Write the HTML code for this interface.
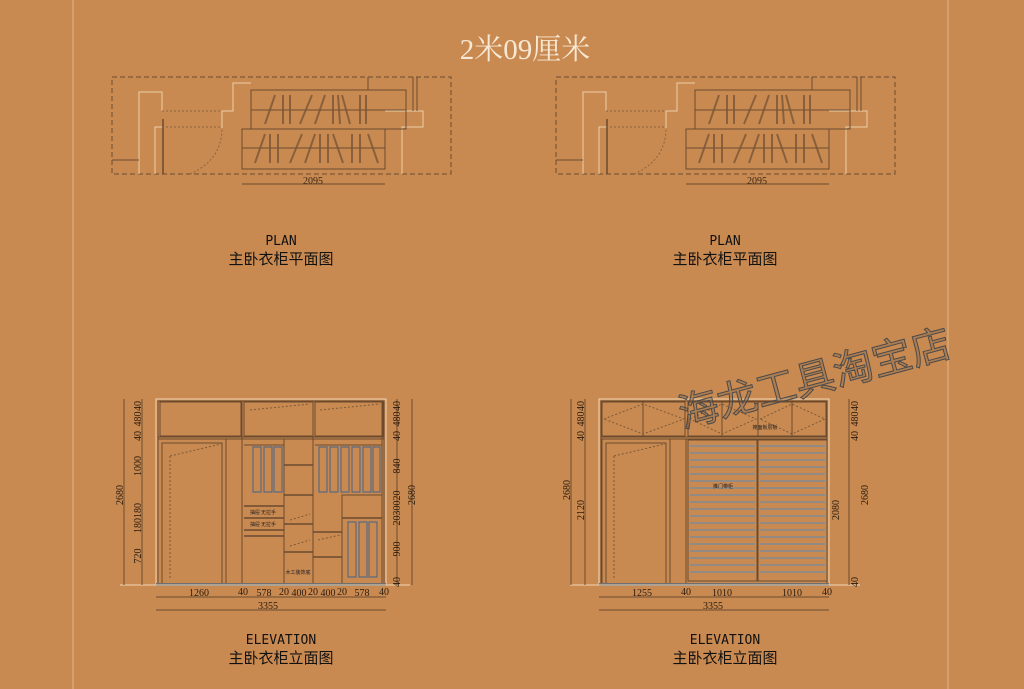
<!DOCTYPE html>
<html><head><meta charset="utf-8"><style>
html,body{margin:0;padding:0;background:#c98a52;}
svg{display:block}
</style></head><body>
<svg width="1024" height="689" viewBox="0 0 1024 689" xmlns="http://www.w3.org/2000/svg" font-family="Liberation Serif, Noto Serif CJK SC, serif">
<rect width="1024" height="689" fill="#c98a52"/>
<line x1="73" y1="0" x2="73" y2="689" stroke="#e2b788" stroke-width="1"/>
<line x1="948" y1="0" x2="948" y2="689" stroke="#e2b788" stroke-width="1"/>
<text x="525" y="59" font-size="29" fill="#f6e8d2" text-anchor="middle">2米09厘米</text>

<defs>
<g id="plan">
 <rect x="112" y="77" width="339" height="97" fill="none" stroke="#6b4a2e" stroke-dasharray="5,3"/>
 <g fill="none" stroke="#edd0a8" stroke-width="1">
  <polyline points="139,174 139,92 162,92 162,111"/>
  <polyline points="162,127 155,127 155,174"/>
  <polyline points="222,128 222,111 233,111 233,83 251,83"/>
  <polyline points="385,111 423,111 423,127 402,127 402,174"/>
 </g>
 <line x1="112" y1="160" x2="139" y2="160" stroke="#6b4a2e"/>
 <line x1="163" y1="119" x2="163" y2="174" stroke="#6b4a2e" stroke-width="1.5"/>
 <path d="M162,111 L222,111 M162,127 L222,127" stroke="#8a6440" stroke-dasharray="2,2"/>
 <path d="M190,174 Q222,160 222,128" fill="none" stroke="#8a6440" stroke-dasharray="2,2"/>
 <rect x="251" y="90" width="155" height="39" fill="none" stroke="#6b4a2e"/>
 <rect x="242" y="129" width="143" height="40" fill="none" stroke="#6b4a2e"/>
 <line x1="251" y1="110" x2="406" y2="110" stroke="#6b4a2e"/>
 <line x1="242" y1="148" x2="385" y2="148" stroke="#6b4a2e"/>
 <line x1="368" y1="77" x2="368" y2="90" stroke="#6b4a2e"/>
 <line x1="413" y1="77" x2="413" y2="111" stroke="#6b4a2e"/>
 <line x1="417" y1="77" x2="417" y2="111" stroke="#6b4a2e"/>
 <g stroke="#7a5636" stroke-width="2" opacity=".8">
  <path d="M265,124 L275,95 M283,124 L283,95 M290,124 L290,95 M300,124 L312,95 M315,124 L325,95 M333,124 L333,95 M340,124 L338,95 M350,124 L342,95 M360,124 L360,95 M366,124 L366,95"/>
  <path d="M255,163 L265,134 M270,163 L270,134 M278,163 L278,134 M290,163 L302,134 M305,163 L315,134 M320,163 L320,134 M328,163 L328,134 M343,163 L333,134 M352,163 L352,134 M360,163 L360,134 M378,163 L368,134"/>
 </g>
 <line x1="242" y1="184" x2="385" y2="184" stroke="#6b4a2e"/>
 <text x="313" y="184" font-size="10" fill="#3a2614" text-anchor="middle">2095</text>
</g>
</defs>
<use href="#plan"/>
<use href="#plan" x="444"/>

<g fill="#111" text-anchor="middle">
<text x="281" y="245" font-size="13" font-family="DejaVu Sans Mono, monospace">PLAN</text>
<text x="281" y="264" font-size="15" font-family="Noto Sans CJK SC, sans-serif">主卧衣柜平面图</text>
<text x="725" y="245" font-size="13" font-family="DejaVu Sans Mono, monospace">PLAN</text>
<text x="725" y="264" font-size="15" font-family="Noto Sans CJK SC, sans-serif">主卧衣柜平面图</text>
<text x="281" y="644" font-size="13" font-family="DejaVu Sans Mono, monospace">ELEVATION</text>
<text x="281" y="663" font-size="15" font-family="Noto Sans CJK SC, sans-serif">主卧衣柜立面图</text>
<text x="725" y="644" font-size="13" font-family="DejaVu Sans Mono, monospace">ELEVATION</text>
<text x="725" y="663" font-size="15" font-family="Noto Sans CJK SC, sans-serif">主卧衣柜立面图</text>
</g>

<!-- Left elevation -->
<g fill="none" stroke="#6b4a2e">
 <rect x="156" y="399" width="230" height="186" stroke="#efd6b2"/>
 <rect x="158" y="401" width="226" height="183"/>
 <line x1="158" y1="437" x2="384" y2="437"/>
 <line x1="158" y1="439" x2="384" y2="439"/>
 <rect x="160" y="402" width="81" height="34"/>
 <rect x="244" y="402" width="69" height="34"/>
 <rect x="315" y="402" width="68" height="34"/>
 <line x1="242" y1="401" x2="242" y2="584"/>
 <line x1="313" y1="401" x2="313" y2="584"/>
 <rect x="158" y="439" width="68" height="145"/>
 <rect x="162" y="443" width="60" height="141"/>
 <line x1="284" y1="439" x2="284" y2="584"/>
 <line x1="244" y1="445" x2="284" y2="445"/>
 <line x1="315" y1="445" x2="382" y2="445"/>
 <path d="M244,506 H284 M244,518 H284 M244,530 H284 M244,536 H284 M284,465 H313 M284,495 H313 M284,524 H313 M284,552 H313 M313,532 H342 M313,557 H342" stroke-width="1.5"/>
 <rect x="342" y="495" width="40" height="23"/>
 <line x1="342" y1="518" x2="382" y2="518" stroke-width="1.5"/>
 <line x1="342" y1="495" x2="342" y2="584"/>
 <line x1="382" y1="401" x2="382" y2="584"/>
</g>
<g stroke="#7a5a3a" stroke-dasharray="2,2" fill="none">
 <path d="M170,456 L170,580 M170,456 L221,444 M250,410 L310,404 M320,410 L380,404 M290,520 L310,514 M290,546 L310,540 M318,540 L340,535"/>
</g>
<g stroke="#5a6a80" fill="none" stroke-width="1.2">
 <path d="M253,447 v45 h8 v-45 z M264,447 v45 h8 v-45 z M274,447 v45 h8 v-45 z"/>
 <path d="M319,447 v45 h8 v-45 z M330,447 v45 h8 v-45 z M341,447 v45 h8 v-45 z M352,447 v45 h8 v-45 z M363,447 v45 h8 v-45 z M373,447 v45 h7 v-45 z"/>
 <path d="M348,522 v55 h8 v-55 z M359,522 v55 h8 v-55 z M369,522 v55 h8 v-55 z"/>
</g>
<rect x="156" y="583" width="230" height="3" fill="#6f6f70"/>
<line x1="120" y1="585" x2="410" y2="585" stroke="#efd6b2"/>
<g font-size="5" fill="#222" text-anchor="middle" font-family="Noto Sans CJK SC, sans-serif">
<text x="263" y="514">抽屉 无拉手</text><text x="263" y="526">抽屉 无拉手</text><text x="298" y="574">木工装饰底</text>
</g>
<g stroke="#6b4a2e" fill="none">
 <line x1="142" y1="399" x2="142" y2="585"/><line x1="124" y1="399" x2="124" y2="585"/>
 <line x1="397" y1="399" x2="397" y2="585"/><line x1="412" y1="399" x2="412" y2="585"/>
 <line x1="156" y1="597" x2="386" y2="597"/><line x1="156" y1="610" x2="386" y2="610"/>
</g>
<g font-size="10" fill="#2a1a0c" text-anchor="middle">
 <text transform="translate(141,406) rotate(-90)">40</text>
 <text transform="translate(141,419) rotate(-90)">480</text>
 <text transform="translate(141,436) rotate(-90)">40</text>
 <text transform="translate(141,466) rotate(-90)">1000</text>
 <text transform="translate(141,518) rotate(-90)">180180</text>
 <text transform="translate(141,556) rotate(-90)">720</text>
 <text transform="translate(123,495) rotate(-90)">2680</text>
 <text transform="translate(400,406) rotate(-90)">40</text>
 <text transform="translate(400,419) rotate(-90)">480</text>
 <text transform="translate(400,436) rotate(-90)">40</text>
 <text transform="translate(400,466) rotate(-90)">840</text>
 <text transform="translate(400,508) rotate(-90)">2030020</text>
 <text transform="translate(400,549) rotate(-90)">900</text>
 <text transform="translate(400,582) rotate(-90)">40</text>
 <text transform="translate(415,495) rotate(-90)">2680</text>
 <text x="199" y="596">1260</text><text x="243" y="595">40</text><text x="264" y="596">578</text>
 <text x="284" y="595">20</text><text x="299" y="596">400</text><text x="313" y="595">20</text>
 <text x="328" y="596">400</text><text x="342" y="595">20</text><text x="362" y="596">578</text>
 <text x="384" y="595">40</text><text x="268" y="609">3355</text>
</g>

<!-- Right elevation -->
<g fill="none" stroke="#6b4a2e">
 <rect x="599" y="399" width="230" height="186" stroke="#efd6b2"/>
 <rect x="601" y="401" width="226" height="183"/>
 <line x1="601" y1="437" x2="827" y2="437"/><line x1="601" y1="439" x2="827" y2="439"/>
 <rect x="602" y="402" width="83" height="34"/>
 <rect x="688" y="402" width="138" height="34"/>
 <line x1="643" y1="402" x2="643" y2="436"/><line x1="722" y1="402" x2="722" y2="436"/>
 <line x1="758" y1="402" x2="758" y2="436"/><line x1="792" y1="402" x2="792" y2="436"/>
 <rect x="602" y="439" width="68" height="145"/><rect x="606" y="443" width="60" height="141"/>
 <line x1="686" y1="439" x2="686" y2="584"/>
 <rect x="688" y="440" width="69" height="141"/><rect x="758" y="440" width="69" height="141"/>
</g>
<g stroke="#8a8a8a" stroke-width="1.8">
 <path d="M690,446H755M690,453H755M690,460H755M690,467H755M690,474H755M690,481H755M690,488H755M690,495H755M690,502H755M690,509H755M690,516H755M690,523H755M690,530H755M690,537H755M690,544H755M690,551H755M690,558H755M690,565H755M690,572H755"/>
 <path d="M760,446H825M760,453H825M760,460H825M760,467H825M760,474H825M760,481H825M760,488H825M760,495H825M760,502H825M760,509H825M760,516H825M760,523H825M760,530H825M760,537H825M760,544H825M760,551H825M760,558H825M760,565H825M760,572H825"/>
</g>
<g stroke="#7a5a3a" stroke-dasharray="2,2" fill="none">
 <path d="M614,456 L614,580 M614,456 L665,444 M604,419 L643,404 L684,419 L643,434 Z M690,419 L722,404 L756,419 L722,434 Z M760,419 L792,404 L825,419 L792,434 Z"/>
</g>
<rect x="599" y="583" width="230" height="3" fill="#6f6f70"/>
<line x1="570" y1="585" x2="860" y2="585" stroke="#efd6b2"/>
<g font-size="5" fill="#222" text-anchor="middle" font-family="Noto Sans CJK SC, sans-serif">
<text x="765" y="429">掩面板层板</text><text x="723" y="488">推门带柜</text>
</g>
<g stroke="#6b4a2e" fill="none">
 <line x1="585" y1="399" x2="585" y2="585"/><line x1="571" y1="399" x2="571" y2="585"/>
 <line x1="849" y1="399" x2="849" y2="585"/>
 <line x1="599" y1="597" x2="829" y2="597"/><line x1="599" y1="610" x2="829" y2="610"/>
</g>
<g font-size="10" fill="#2a1a0c" text-anchor="middle">
 <text transform="translate(584,406) rotate(-90)">40</text>
 <text transform="translate(584,419) rotate(-90)">480</text>
 <text transform="translate(584,436) rotate(-90)">40</text>
 <text transform="translate(584,510) rotate(-90)">2120</text>
 <text transform="translate(570,490) rotate(-90)">2680</text>
 <text transform="translate(858,406) rotate(-90)">40</text>
 <text transform="translate(858,419) rotate(-90)">480</text>
 <text transform="translate(858,436) rotate(-90)">40</text>
 <text transform="translate(839,510) rotate(-90)">2080</text>
 <text transform="translate(858,582) rotate(-90)">40</text>
 <text transform="translate(868,495) rotate(-90)">2680</text>
 <text x="642" y="596">1255</text><text x="686" y="595">40</text><text x="722" y="596">1010</text>
 <text x="792" y="596">1010</text><text x="827" y="595">40</text><text x="713" y="609">3355</text>
</g>

<text transform="translate(683,428) rotate(-15)" font-size="40" fill="rgba(120,100,80,0.35)" stroke="#4a4a4a" stroke-width="1" font-family="Noto Sans CJK SC, sans-serif">海龙工具淘宝店</text>
</svg>
</body></html>
